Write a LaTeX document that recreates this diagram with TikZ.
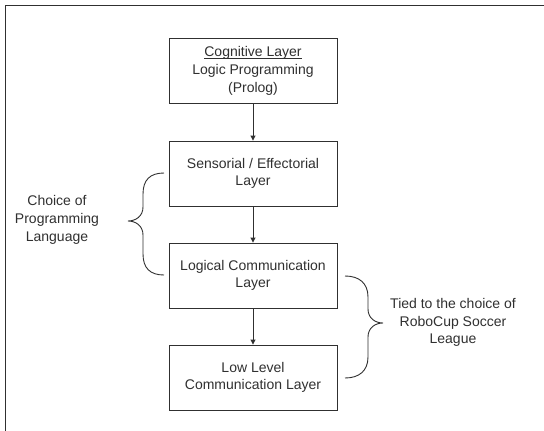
\documentclass[tikz,border=0pt]{standalone}
\usepackage{fontspec}
\setmainfont{Liberation Sans}
\usetikzlibrary{arrows.meta}
\definecolor{ln}{HTML}{303030}
\newcommand\myul[1]{\setbox0\hbox{#1}\rlap{\rule[-2pt]{\wd0}{0.7pt}}\box0}
\begin{document}
\begin{tikzpicture}[x=1pt,y=-1pt,
  layer/.style={draw=ln,line width=0.9pt,minimum width=168pt,minimum height=65pt,inner sep=0pt,align=center,font=\fontsize{14}{17.7}\selectfont,text=ln},
  lbl/.style={align=center,font=\fontsize{14}{17.7}\selectfont,text=ln},
  conn/.style={draw=ln,line width=0.9pt,-{Triangle[length=5pt,width=5pt]}},
  brace/.style={draw=ln,line width=0.9pt}]
\useasboundingbox (0,0) rectangle (544,431);
\fill[white] (0,0) rectangle (544,431);
\draw[ln,line width=0.9pt] (5,431) -- (5,5) -- (544,5);
\node[layer] (c) at (253,71) {\myul{Cognitive Layer}\\Logic Programming\\(Prolog)};
\node[layer] (s) at (253,173.5) {Sensorial / Effectorial\\Layer};
\node[layer] (l) at (253,275.5) {Logical Communication\\Layer};
\node[layer] (w) at (253,377.5) {Low Level\\Communication Layer};
\draw[conn] (c) -- (s);
\draw[conn] (s) -- (l);
\draw[conn] (l) -- (w);
\node[lbl] (t1) at (57,220) {Choice of\\Programming\\Language};
\node[lbl] (t2) at (453,322.5) {Tied to the choice of\\RoboCup Soccer\\League};
\coordinate (a1) at (164,173);
\coordinate (a2) at (164,275);
\coordinate (at) at (128,221);
\draw[brace] (a1) .. controls (150,173) and (143,180) .. (143,194) -- (143,207)
  .. controls (143,216) and (136,221) .. (at)
  .. controls (136,221) and (143,226) .. (143,235) -- (143,254)
  .. controls (143,268) and (150,275) .. (a2);
\coordinate (b1) at (345,276);
\coordinate (b2) at (345,378);
\coordinate (bt) at (383,323);
\draw[brace] (b1) .. controls (359,276) and (368,283) .. (368,297) -- (368,309)
  .. controls (368,318) and (375,323) .. (bt)
  .. controls (375,323) and (368,328) .. (368,337) -- (368,357)
  .. controls (368,371) and (359,378) .. (b2);
\end{tikzpicture}
\end{document}
